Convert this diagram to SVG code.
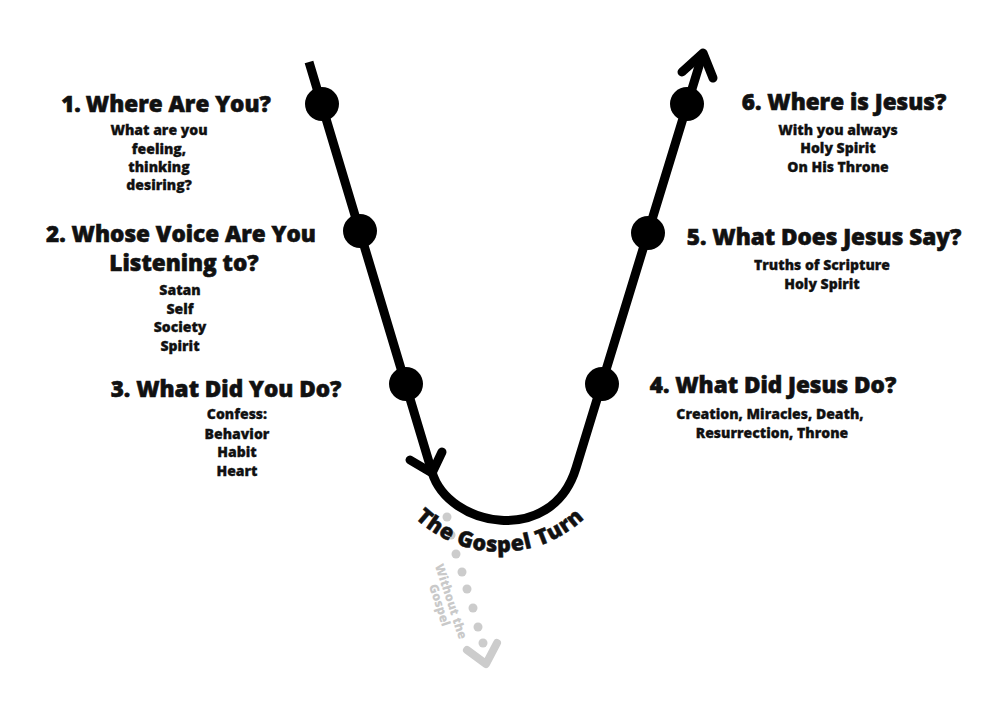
<svg xmlns="http://www.w3.org/2000/svg" width="995" height="708" viewBox="0 0 995 708">
<style>
text{font-family:"Open Sans","Liberation Sans",sans-serif;font-weight:800;fill:#111;text-anchor:middle}
.t{font-size:22.5px;stroke:#111;stroke-width:0.6}
.s{font-size:14px;stroke:#111;stroke-width:0.3}
.g{fill:#c9c9c9;font-size:12.5px}
.path{fill:none;stroke:#000;stroke-width:9;stroke-linecap:round;stroke-linejoin:round}
.dot{fill:#000}
.gd{fill:#cccccc}
</style>
<rect width="995" height="708" fill="#fff"/>
<defs>
<path id="arc" d="M377,429 A123,123 0 0 0 623,429"/>
</defs>
<g id="without-gospel">
<circle class="gd" cx="447" cy="517" r="4.5"/>
<circle class="gd" cx="451" cy="535" r="4.5"/>
<circle class="gd" cx="456" cy="554" r="4.5"/>
<circle class="gd" cx="462" cy="572" r="4.5"/>
<circle class="gd" cx="467" cy="589" r="4.5"/>
<circle class="gd" cx="473" cy="608" r="4.5"/>
<circle class="gd" cx="478" cy="627" r="4.5"/>
<circle class="gd" cx="483" cy="643" r="4.5"/>
<polyline points="467,650 486,664 497,643" fill="none" stroke="#cccccc" stroke-width="8" stroke-linecap="round" stroke-linejoin="round"/>
<g transform="translate(446,603) rotate(72)">
<text class="g" x="0" y="-1">Without the</text>
<text class="g" x="0" y="11">Gospel</text>
</g>
</g>
<g id="connectors">
<path class="path" d="M309,62 L432,472 C448,527 552,547 576,468 L703,53" style="stroke-linecap:butt"/>
<polyline class="path" points="410,460 432,473 442,452"/>
<polyline class="path" points="682,72 703,53 713,78"/>
</g>
<g id="turn-label">
<text style="font-size:21.5px;stroke:#111;stroke-width:0.5;letter-spacing:0.6px"><textPath href="#arc" startOffset="50%">The Gospel Turn</textPath></text>
</g>
<g id="n1">
<circle class="dot" cx="322" cy="104" r="17"/>
<text class="t" x="166" y="112">1.<tspan dx="5">Where Are You?</tspan></text>
<text class="s" x="159" y="135">What are you</text>
<text class="s" x="159" y="154">feeling,</text>
<text class="s" x="159" y="172">thinking</text>
<text class="s" x="159" y="190">desiring?</text>
</g>
<g id="n2">
<circle class="dot" cx="360" cy="231" r="17"/>
<text class="t" x="181" y="242">2. Whose Voice Are You</text>
<text class="t" x="184" y="271">Listening to?</text>
<text class="s" x="180" y="295">Satan</text>
<text class="s" x="180" y="314">Self</text>
<text class="s" x="180" y="332">Society</text>
<text class="s" x="180" y="351">Spirit</text>
</g>
<g id="n3">
<circle class="dot" cx="406" cy="384" r="17"/>
<text class="t" x="226" y="397">3. What Did You Do?</text>
<text class="s" x="237" y="419">Confess:</text>
<text class="s" x="237" y="439">Behavior</text>
<text class="s" x="237" y="457">Habit</text>
<text class="s" x="237" y="476">Heart</text>
</g>
<g id="n4">
<circle class="dot" cx="602" cy="384" r="17"/>
<text class="t" x="773" y="393">4. What Did Jesus Do?</text>
<text class="s" x="770" y="419">Creation, Miracles, Death,</text>
<text class="s" x="772" y="438">Resurrection, Throne</text>
</g>
<g id="n5">
<circle class="dot" cx="648" cy="233" r="17"/>
<text class="t" x="824" y="245">5. What Does Jesus Say?</text>
<text class="s" x="822" y="270">Truths of Scripture</text>
<text class="s" x="822" y="289">Holy Spirit</text>
</g>
<g id="n6">
<circle class="dot" cx="687" cy="104" r="17"/>
<text class="t" x="844" y="110">6. Where is Jesus?</text>
<text class="s" x="838" y="135">With you always</text>
<text class="s" x="838" y="153">Holy Spirit</text>
<text class="s" x="838" y="172">On His Throne</text>
</g>
</svg>
